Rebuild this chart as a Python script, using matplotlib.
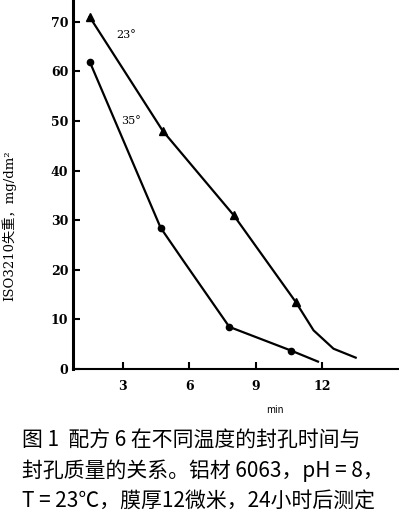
import matplotlib
matplotlib.use("Agg")
import matplotlib.pyplot as plt

plt.rcParams['font.family'] = ['Noto Sans CJK SC', 'DejaVu Sans']

# 23 C series (triangles) - marker points and curve points
t23_pts = [1.5, 4.8, 8.0, 10.8]
w23_pts = [71.0, 48.0, 31.0, 13.5]
t23_line = [1.5, 4.8, 8.0, 10.8, 11.6, 12.5, 13.5]
w23_line = [71.0, 48.0, 31.0, 13.5, 7.8, 4.1, 2.3]

# 35 C series (circles)
t35_pts = [1.5, 4.7, 7.8, 10.6]
w35_pts = [62.0, 28.5, 8.5, 3.7]
t35_line = [1.5, 4.7, 5.7, 7.8, 10.6, 11.8]
w35_line = [62.0, 28.5, 22.0, 8.5, 3.7, 1.5]

xticks = [3, 6, 9, 12]
yticks = [0, 10, 20, 30, 40, 50, 60, 70]

caption = ["图 1  配方 6 在不同温度的封孔时间与",
           "封孔质量的关系。铝材 6063，pH = 8，",
           "T = 23℃，膜厚12微米，24小时后测定"]

fig = plt.figure(figsize=(3.99, 5.14), dpi=100)
ax = fig.add_axes([0.183, 0.282, 0.814, 0.718])

ax.plot(t23_line, w23_line, color='black', lw=1.6)
ax.plot(t23_pts, w23_pts, '^', color='black', ms=6)
ax.plot(t35_line, w35_line, color='black', lw=1.6)
ax.plot(t35_pts, w35_pts, 'o', color='black', ms=4.5)

ax.text(2.7, 67.3, '23°', fontsize=8, family='DejaVu Serif', va='center')
ax.text(2.9, 50.0, '35°', fontsize=8, family='DejaVu Serif', va='center')

ax.set_xlim(0.75, 15.4)
ax.set_ylim(0, 74.4)
ax.set_xticks(xticks)
ax.set_yticks(yticks)
ax.tick_params(direction='in', length=5, width=1.5, labelsize=9)
for lab in ax.get_xticklabels() + ax.get_yticklabels():
    lab.set_family('DejaVu Serif')
    lab.set_fontweight('bold')
ax.tick_params(axis='x', pad=8)

ax.spines['top'].set_visible(False)
ax.spines['right'].set_visible(False)
ax.spines['left'].set_linewidth(2.2)
ax.spines['bottom'].set_linewidth(1.5)

fig.text(0.022, 0.56, 'ISO3210失重，mg/dm²', rotation=90, fontsize=9.5,
         ha='center', va='center', family=['DejaVu Serif', 'Noto Sans CJK SC'])
fig.text(0.69, 0.202, 'min', fontsize=7, ha='center', va='center')

for i, line in enumerate(caption):
    fig.text(0.055, 0.144 - i * 0.06, line, fontsize=15, va='center',
             fontweight='medium')

fig.savefig('out.png', dpi=100)
